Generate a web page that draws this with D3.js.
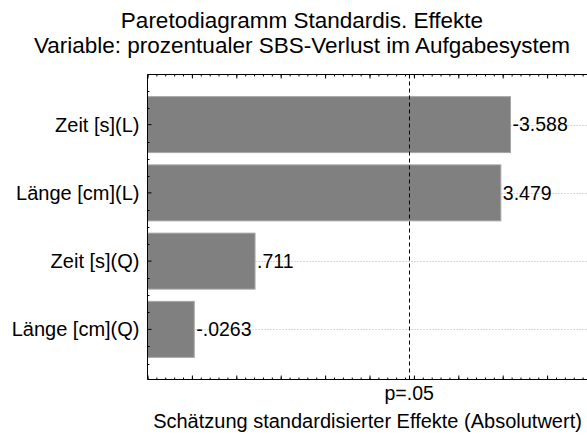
<!DOCTYPE html>
<html>
<head>
<meta charset="utf-8">
<script src="https://cdn.jsdelivr.net/npm/d3@7"></script>
<style>
  html, body { margin: 0; padding: 0; background: #fff; }
  svg { display: block; font-family: Arial, "Liberation Sans", sans-serif; }
</style>
</head>
<body>
<svg id="chart" width="587" height="436"></svg>
<script>
// ---- data ----
const categories = ["Zeit [s](L)", "Länge [cm](L)", "Zeit [s](Q)", "Länge [cm](Q)"];
const effects = [-3.588, 3.479, 0.711, -0.0263];
const effectLabels = ["-3.588", "3.479", ".711", "-.0263"];
const critical = 2.447;
const criticalLabel = "p=.05";
const xDomain = [-0.5, 4.5];
const titleLines = ["Paretodiagramm Standardis. Effekte",
                    "Variable: prozentualer SBS-Verlust im Aufgabesystem"];
const xTitle = "Schätzung standardisierter Effekte (Absolutwert)";

// ---- layout ----
const svg = d3.select("#chart");
const plot = { left: 147.5, right: 591.5, top: 74.5, bottom: 379.5 };

const x = d3.scaleLinear().domain(xDomain).range([plot.left, plot.right]);
const y = d3.scaleBand().domain(categories)
  .range([plot.top + 16, plot.bottom - 16])
  .paddingInner(0.18).paddingOuter(0.09);

// gridlines
svg.append("g").selectAll("line").data(categories).join("line")
  .attr("x1", plot.left).attr("x2", plot.right)
  .attr("y1", d => Math.round(y(d) + y.bandwidth() / 2) + 0.5)
  .attr("y2", d => Math.round(y(d) + y.bandwidth() / 2) + 0.5)
  .attr("stroke", "#b4b4b4").attr("stroke-dasharray", "1,2");

// bars
svg.append("g").selectAll("rect").data(categories).join("rect")
  .attr("x", plot.left)
  .attr("y", d => y(d))
  .attr("width", (d, i) => x(Math.abs(effects[i])) - plot.left)
  .attr("height", y.bandwidth())
  .attr("fill", "#808080")
  .attr("stroke", "#a6a6a6").attr("stroke-width", 1);

// value labels
svg.append("g").selectAll("text").data(categories).join("text")
  .attr("x", (d, i) => x(Math.abs(effects[i])) + 2)
  .attr("y", d => y(d) + y.bandwidth() / 2)
  .attr("dy", "0.35em")
  .attr("font-size", 19.5)
  .attr("fill", "#000")
  .text((d, i) => effectLabels[i]);

// critical line
svg.append("line")
  .attr("x1", Math.round(x(critical)) + 0.5).attr("x2", Math.round(x(critical)) + 0.5)
  .attr("y1", plot.top).attr("y2", plot.bottom)
  .attr("stroke", "#000").attr("stroke-dasharray", "4,3");

// frame (left, top, bottom, right)
const frame = svg.append("g").attr("stroke", "#000").attr("stroke-width", 1);
frame.append("line").attr("x1", plot.left).attr("x2", plot.left).attr("y1", plot.top).attr("y2", plot.bottom);
frame.append("line").attr("x1", plot.left).attr("x2", plot.right).attr("y1", plot.top).attr("y2", plot.top);
frame.append("line").attr("x1", plot.left).attr("x2", plot.right).attr("y1", plot.bottom).attr("y2", plot.bottom);
frame.append("line").attr("x1", plot.right).attr("x2", plot.right).attr("y1", plot.top).attr("y2", plot.bottom);

// x axis ticks (bottom and top), inward
const majorX = d3.range(xDomain[0], xDomain[1] + 0.001, 0.5);
const minorX = d3.range(xDomain[0], xDomain[1] + 0.001, 0.1);
const xb = d3.axisBottom(x).tickValues(majorX).tickSize(-4).tickFormat("");
const xbm = d3.axisBottom(x).tickValues(minorX).tickSize(-2).tickFormat("");
const xt = d3.axisTop(x).tickValues(majorX).tickSize(-4).tickFormat("");
const xtm = d3.axisTop(x).tickValues(minorX).tickSize(-2).tickFormat("");
[[xb, plot.bottom], [xbm, plot.bottom], [xt, plot.top], [xtm, plot.top]].forEach(([ax, ty]) => {
  const g = svg.append("g").attr("transform", `translate(0,${ty})`).call(ax);
  g.select(".domain").remove();
  g.selectAll("line").attr("stroke", "#000");
});

// y axis ticks: major at band centers, minor at quarter steps
const step = y.step();
const yMinor = [];
categories.forEach(c => {
  const cy = y(c) + y.bandwidth() / 2;
  [-0.5, -0.25, 0.25].forEach(f => yMinor.push(cy + f * step));
});
yMinor.push(y(categories[categories.length - 1]) + y.bandwidth() / 2 + 0.25 * step);
yMinor.push(y(categories[categories.length - 1]) + y.bandwidth() / 2 + 0.5 * step);
const yAxis = d3.axisLeft(y).tickSize(-4).tickFormat("").tickPadding(6);
const gy = svg.append("g").attr("transform", `translate(${plot.left},0)`).call(yAxis);
gy.select(".domain").remove();
gy.selectAll("line").attr("stroke", "#000");
svg.append("g").selectAll("line").data(yMinor).join("line")
  .attr("x1", plot.left).attr("x2", plot.left + 2)
  .attr("y1", d => Math.round(d) + 0.5).attr("y2", d => Math.round(d) + 0.5)
  .attr("stroke", "#000");

// category labels
svg.append("g").selectAll("text").data(categories).join("text")
  .attr("x", plot.left - 8)
  .attr("y", d => y(d) + y.bandwidth() / 2)
  .attr("dy", "0.35em")
  .attr("text-anchor", "end")
  .attr("font-size", 20)
  .text(d => d);

// critical label
svg.append("text")
  .attr("x", x(critical)).attr("y", 400)
  .attr("text-anchor", "middle").attr("font-size", 19.5)
  .text(criticalLabel);

// x title
svg.append("text")
  .attr("x", (plot.left + plot.right) / 2 - 2).attr("y", 428)
  .attr("text-anchor", "middle").attr("font-size", 20)
  .text(xTitle);

// title
svg.append("g").selectAll("text").data(titleLines).join("text")
  .attr("x", 302)
  .attr("y", (d, i) => 28 + i * 25)
  .attr("text-anchor", "middle")
  .attr("font-size", 22.5)
  .text(d => d);
</script>
</body>
</html>
